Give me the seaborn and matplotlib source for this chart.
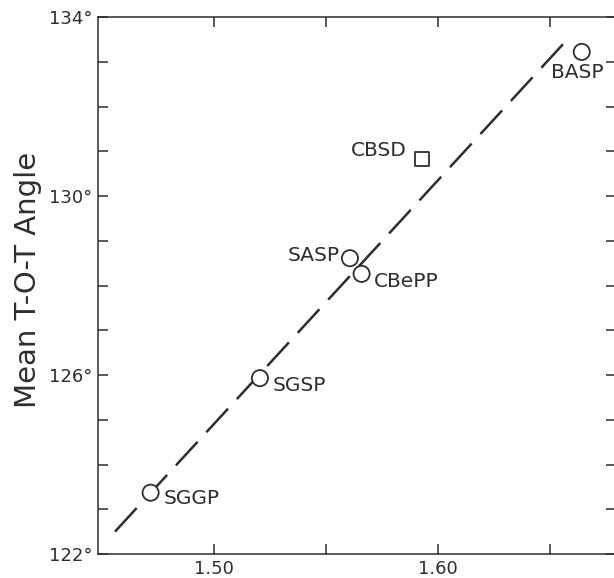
import numpy as np
import pandas as pd
import matplotlib
matplotlib.use("Agg")
import matplotlib.pyplot as plt
from matplotlib.ticker import MultipleLocator, FixedLocator, FuncFormatter
import seaborn as sns

# 読み取った値 (mean T-O bond length vs mean T-O-T angle)
names = ["SGGP", "SGSP", "SASP", "CBePP", "CBSD", "BASP"]
bond = [1.4717, 1.5205, 1.5607, 1.5659, 1.5927, 1.6642]
angle = [123.37, 125.93, 128.61, 128.26, 130.82, 133.22]
shape = ["circle", "circle", "circle", "circle", "square", "circle"]

# 破線の端点
fit_x = [1.4558, 1.658]
fit_y = [122.50, 133.51]

# x軸の目盛り
x_ticks = [1.50, 1.55, 1.60, 1.65]
x_ticklabels = ["1.50", "", "1.60", ""]

# ラベルのずらし量 (points)
label_dx = [9, 9, -7, 9, -11, -3]
label_dy = [-4.5, -5.5, 2, -5.5, 6.5, -15]
label_ha = ["left", "left", "right", "left", "right", "center"]

df = pd.DataFrame({"name": names, "bond": bond, "angle": angle, "shape": shape})

ink = "#2e2e2e"
sns.set_style("ticks")
plt.rcParams["font.family"] = ["DejaVu Sans"]

fig = plt.figure(figsize=(6.14, 5.78), dpi=100)
ax = fig.add_axes([98 / 614, 24 / 578, 518 / 614, 537 / 578])

# 破線
ax.plot(fit_x, fit_y, color=ink, lw=1.8, dashes=(12.8, 5.2), zorder=1)

# 点
sns.scatterplot(data=df, x="bond", y="angle", style="shape",
                markers={"circle": "o", "square": "s"},
                size="shape", sizes={"circle": 135, "square": 100},
                color="white", edgecolor=ink, linewidth=1.3,
                legend=False, ax=ax, zorder=3)

for i in range(len(names)):
    ax.annotate(names[i], (bond[i], angle[i]), xytext=(label_dx[i], label_dy[i]),
                textcoords="offset points", ha=label_ha[i], va="center",
                fontsize=14.5, color=ink)

ax.set_xlim(1.4482, 1.6795)
ax.set_ylim(122, 134)

ax.xaxis.set_major_locator(FixedLocator(x_ticks))
ax.set_xticklabels(x_ticklabels)
ax.yaxis.set_major_locator(MultipleLocator(1))
ax.yaxis.set_major_formatter(FuncFormatter(
    lambda v, p: f"{v:.0f}°" if round(v - 122) % 4 == 0 else ""))

ax.tick_params(direction="in", length=7, width=1.1, color=ink,
               top=True, right=True, labelsize=13, labelcolor=ink)
ax.tick_params(axis="y", pad=4)
ax.tick_params(axis="x", pad=4)

for s in ax.spines.values():
    s.set_linewidth(1.1)
    s.set_color(ink)

ax.set_xlabel("")
ax.set_ylabel("Mean T-O-T Angle", fontsize=21, color=ink)
ax.yaxis.set_label_coords(-0.108, 0.51)

fig.savefig("out.png", dpi=100)
